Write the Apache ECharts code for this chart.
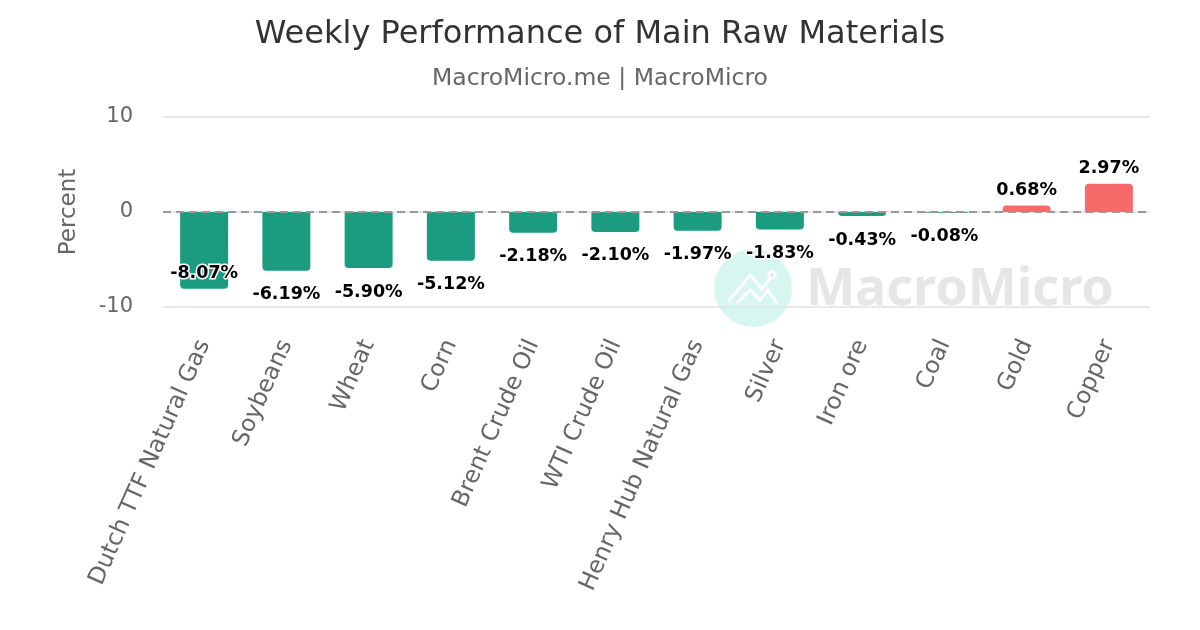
<!DOCTYPE html>
<html>
<head>
<meta charset="utf-8">
<script src="https://cdn.jsdelivr.net/npm/echarts@6/dist/echarts.min.js"></script>
<style>
  html, body { margin: 0; padding: 0; background: #fff; }
  #main { width: 1200px; height: 630px; }
</style>
</head>
<body>
<div id="main"></div>
<script>
var myChart = echarts.init(document.getElementById('main'));

// weekly change, percent
var categories = ['Dutch TTF Natural Gas', 'Soybeans', 'Wheat', 'Corn', 'Brent Crude Oil',
    'WTI Crude Oil', 'Henry Hub Natural Gas', 'Silver', 'Iron ore', 'Coal', 'Gold', 'Copper'];
var values = [-8.07, -6.19, -5.90, -5.12, -2.18, -2.10, -1.97, -1.83, -0.43, -0.08, 0.68, 2.97];
var yTicks = [-10, 0, 10];

var green = '#1b9c7e';
var red = '#f76a6a';

var barData = values.map(function (v, i) {
    var item = {
        value: v,
        itemStyle: {
            color: v < 0 ? green : red,
            borderRadius: v < 0 ? [0, 0, 4, 4] : [4, 4, 0, 0]
        }
    };
    if (v > 0) {
        item.label = { position: 'top', distance: 6 };
    }
    // first label does not fit under the bar, keep it inside like the original
    if (i === 0) {
        item.label = { position: 'insideBottom', distance: 6 };
    }
    return item;
});

var option = {
    backgroundColor: '#fff',
    title: {
        text: 'Weekly Performance of Main Raw Materials',
        subtext: 'MacroMicro.me | MacroMicro',
        left: 'center',
        top: 14,
        itemGap: 16,
        textStyle: { fontFamily: 'DejaVu Sans', fontSize: 32, fontWeight: 'normal', color: '#333' },
        subtextStyle: { fontFamily: 'DejaVu Sans', fontSize: 23.5, color: '#666' }
    },
    graphic: [
        { type: 'circle', z: -10, shape: { cx: 753, cy: 288, r: 39 }, style: { fill: '#d6f6ef' } },
        { type: 'polyline', z: -9, shape: { points: [[728, 302], [750, 275], [762, 289], [771, 277]] },
          style: { stroke: '#fff', lineWidth: 3, fill: null } },
        { type: 'polyline', z: -9, shape: { points: [[737, 303], [750, 290], [760, 300], [768, 290], [777, 303]] },
          style: { stroke: '#fff', lineWidth: 3, fill: null } },
        { type: 'circle', z: -9, shape: { cx: 772, cy: 275, r: 3.5 }, style: { fill: null, stroke: '#fff', lineWidth: 2.5 } },
        { type: 'text', z: -10, x: 806, y: 290,
          style: { text: 'MacroMicro', fontFamily: 'Noto Sans', fontWeight: 'bold', fontSize: 52,
                   fill: '#e5e6e7', verticalAlign: 'middle', align: 'left' } }
    ],
    grid: { left: 163, right: 50, top: 117, bottom: 323 },
    xAxis: {
        type: 'category',
        data: categories,
        axisLine: { show: false },
        axisTick: { show: false },
        axisLabel: {
            interval: 0,
            rotate: 66,
            margin: 34,
            fontFamily: 'DejaVu Sans',
            fontSize: 23.5,
            color: '#666'
        }
    },
    yAxis: {
        type: 'value',
        min: yTicks[0],
        max: yTicks[yTicks.length - 1],
        interval: 10,
        name: 'Percent',
        nameLocation: 'middle',
        nameGap: 82,
        nameTextStyle: { fontFamily: 'DejaVu Sans', fontSize: 23, color: '#666' },
        axisLine: { show: false },
        axisTick: { show: false },
        axisLabel: { margin: 30, fontFamily: 'DejaVu Sans', fontSize: 21, color: '#666' },
        splitLine: { lineStyle: { color: '#e0e0e0', width: 1.5 } }
    },
    series: [{
        type: 'bar',
        data: barData,
        barWidth: 48,
        label: {
            show: true,
            position: 'bottom',
            distance: 15,
            formatter: function (p) { return p.value.toFixed(2) + '%'; },
            fontFamily: 'DejaVu Sans',
            fontWeight: 'bold',
            fontSize: 17.5,
            color: '#000',
            textBorderColor: '#fff',
            textBorderWidth: 3
        },
        markLine: {
            silent: true,
            symbol: 'none',
            label: { show: false },
            lineStyle: { color: '#999', type: [8, 5], width: 2 },
            data: [{ yAxis: 0 }]
        }
    }]
};

myChart.setOption(option);
</script>
</body>
</html>
